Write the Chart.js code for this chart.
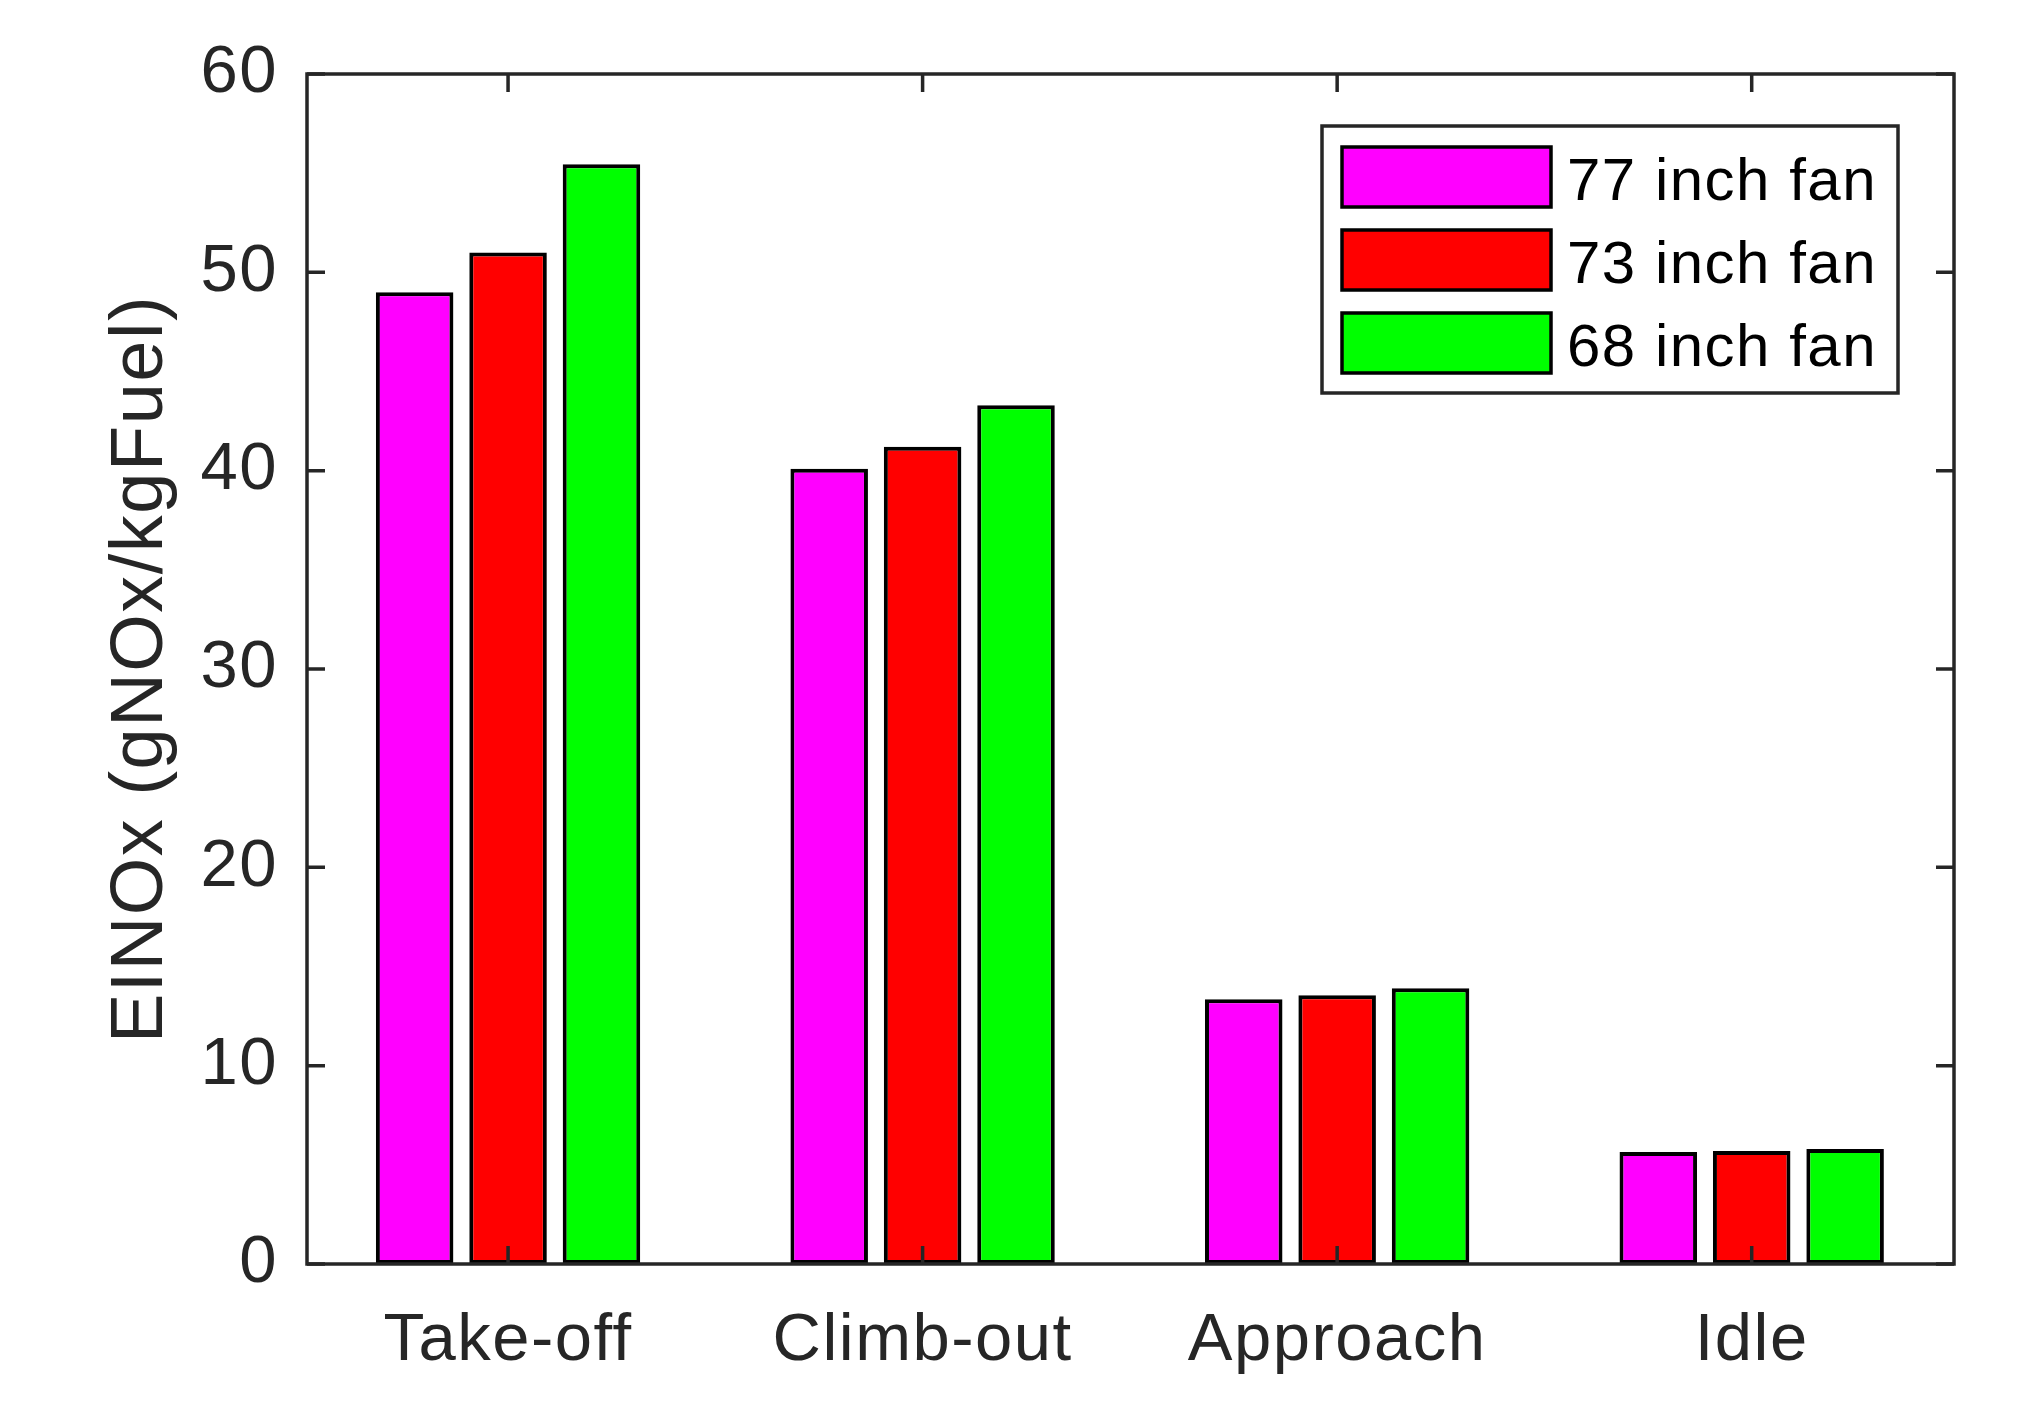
<!DOCTYPE html>
<html>
<head>
<meta charset="utf-8">
<title>EINOx by flight phase</title>
<script src="https://cdn.jsdelivr.net/npm/chart.js@4.4.1/dist/chart.umd.min.js"></script>
<style>
  body { margin: 0; background: #fff; }
  #wrap { width: 2033px; height: 1424px; position: relative; }
</style>
</head>
<body>
<div id="wrap"><canvas id="noxChart"></canvas></div>
<script>
// Chart data
const phases = ['Take-off', 'Climb-out', 'Approach', 'Idle'];
const fan77 = [49.0, 40.1, 13.35, 5.65];
const fan73 = [51.0, 41.2, 13.55, 5.7];
const fan68 = [55.45, 43.3, 13.9, 5.8];
const seriesNames = ['77 inch fan', '73 inch fan', '68 inch fan'];
const seriesColors = ['#ff00ff', '#ff0000', '#00ff00'];
const yTicks = [0, 10, 20, 30, 40, 50, 60];

const FONT = "'Liberation Sans', Arial, Helvetica, sans-serif";
const AXIS_COLOR = '#262626';

// slightly wider text, closer to the original renderer
const textSpacing = {
    id: 'textSpacing',
    beforeDraw(chart) {
        chart.ctx.letterSpacing = '1.5px';
    }
};

// Box around the plot plus inward tick marks on all four sides
const boxAndTicks = {
    id: 'boxAndTicks',
    afterDatasetsDraw(chart) {
        const ctx = chart.ctx;
        const area = chart.chartArea;
        const x = chart.scales.x;
        const y = chart.scales.y;
        const len = 18;
        ctx.save();
        ctx.strokeStyle = AXIS_COLOR;
        ctx.lineWidth = 3.5;
        ctx.beginPath();
        yTicks.forEach(v => {
            const py = y.getPixelForValue(v);
            ctx.moveTo(area.left, py); ctx.lineTo(area.left + len, py);
            ctx.moveTo(area.right, py); ctx.lineTo(area.right - len, py);
        });
        phases.forEach((p, i) => {
            const px = x.getPixelForValue(i);
            ctx.moveTo(px, area.bottom); ctx.lineTo(px, area.bottom - len);
            ctx.moveTo(px, area.top); ctx.lineTo(px, area.top + len);
        });
        ctx.stroke();
        ctx.strokeRect(area.left, area.top, area.right - area.left, area.bottom - area.top);
        ctx.restore();
    }
};

// Legend box in the upper right corner of the plot
const boxLegend = {
    id: 'boxLegend',
    afterDraw(chart) {
        const ctx = chart.ctx;
        const area = chart.chartArea;
        const boxW = 576, boxH = 267;
        const bx = area.right - 56 - boxW;
        const by = area.top + 52;
        ctx.save();
        ctx.fillStyle = '#fff';
        ctx.fillRect(bx, by, boxW, boxH);
        ctx.strokeStyle = AXIS_COLOR;
        ctx.lineWidth = 3.5;
        ctx.strokeRect(bx, by, boxW, boxH);
        ctx.font = '60px ' + FONT;
        ctx.textBaseline = 'alphabetic';
        chart.data.datasets.forEach((ds, i) => {
            const sy = by + 21 + i * 83;
            ctx.fillStyle = ds.backgroundColor;
            ctx.fillRect(bx + 20, sy, 209, 60);
            ctx.strokeStyle = '#000';
            ctx.lineWidth = 3.5;
            ctx.strokeRect(bx + 20, sy, 209, 60);
            ctx.fillStyle = '#000';
            ctx.fillText(ds.label, bx + 245, sy + 53);
        });
        ctx.restore();
    }
};

const datasets = [fan77, fan73, fan68].map((vals, i) => ({
    label: seriesNames[i],
    data: vals,
    backgroundColor: seriesColors[i],
    borderColor: '#000',
    borderWidth: 4,
    borderSkipped: false,
    categoryPercentage: 0.676,
    barPercentage: 0.83
}));

const ctx = document.getElementById('noxChart').getContext('2d');
const noxChart = new Chart(ctx, {
    type: 'bar',
    data: { labels: phases, datasets: datasets },
    options: {
        responsive: true,
        maintainAspectRatio: false,
        animation: false,
        layout: { padding: { top: 74, right: 79, left: 0, bottom: 0 } },
        plugins: {
            legend: { display: false },
            tooltip: { enabled: false }
        },
        scales: {
            x: {
                offset: true,
                grid: { display: false, drawTicks: false },
                border: { display: false },
                ticks: {
                    color: AXIS_COLOR,
                    font: { family: FONT, size: 67 },
                    padding: 37,
                    maxRotation: 0
                },
                // x limits a touch tighter than half a category on each side
                afterBuildTicks(scale) {
                    scale._startValue = -0.485;
                    scale._valueRange = 3.973;
                },
                afterFit(scale) { scale.height = 160; }
            },
            y: {
                min: 0,
                max: 60,
                grid: { display: false, drawTicks: false },
                border: { display: false },
                ticks: {
                    stepSize: 10,
                    color: AXIS_COLOR,
                    font: { family: FONT, size: 67 },
                    padding: 29
                },
                title: {
                    display: true,
                    text: 'EINOx (gNOx/kgFuel)',
                    color: AXIS_COLOR,
                    font: { family: FONT, size: 74, lineHeight: 1 },
                    padding: { top: 105, bottom: 0 }
                },
                afterFit(scale) { scale.width = 307; }
            }
        }
    },
    plugins: [textSpacing, boxAndTicks, boxLegend]
});
</script>
</body>
</html>
